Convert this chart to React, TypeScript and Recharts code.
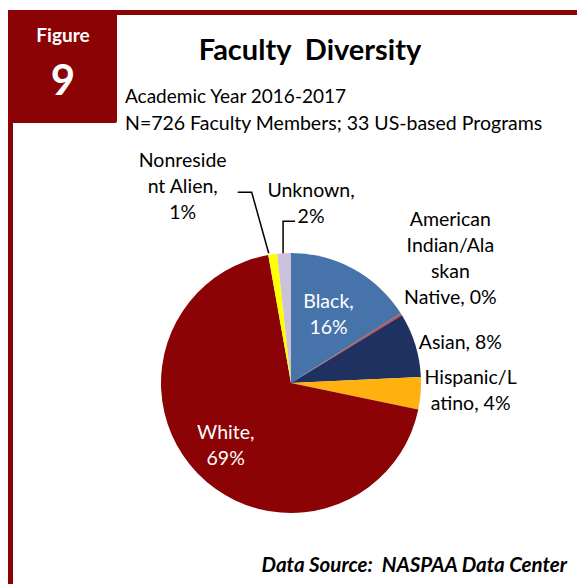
import { PieChart, Pie, Cell } from 'recharts'

const categories = [
  'Black',
  'American Indian/Alaskan Native',
  'Asian',
  'Hispanic/Latino',
  'White',
  'Nonresident Alien',
  'Unknown',
]
const shares = [16, 0.3, 8, 4, 69, 1.1, 1.7]
const labelLines = [
  ['Black,', '16%'],
  ['American', 'Indian/Ala', 'skan', 'Native, 0%'],
  ['Asian, 8%'],
  ['Hispanic/L', 'atino, 4%'],
  ['White,', '69%'],
  ['Nonreside', 'nt Alien,', '1%'],
  ['Unknown,', '2%'],
]
const colors = ['#4674AA', '#C0504D', '#1F3161', '#FFB20F', '#8B0304', '#FFFF00', '#CCC1DA']

const FRAME = '#8B0304'
const FONT = 'Lato, "Open Sans", sans-serif'
const LINE_H = 26
const RADIAN = Math.PI / 180

// how each label sits relative to its slice (inside: radius factor; outside: offset from rim point)
type Place =
  | { inside: true; rf: number }
  | { inside: false; dx: number; dy: number; leader?: [number, number][] }

const placement: Place[] = [
  { inside: true, rf: 0.6 },
  { inside: false, dx: 49, dy: -88 },
  { inside: false, dx: 45, dy: 4 },
  { inside: false, dx: 50, dy: -9 },
  { inside: true, rf: 0.7 },
  { inside: false, dx: -90, dy: -87, leader: [[-4, -1], [-21, -62], [-35, -62]] },
  { inside: false, dx: 27, dy: -56, leader: [[-1, 0], [-1, -32], [11, -32]] },
]

const data = categories.map((name, i) => ({ name, value: shares[i] }))

function renderLabel(props: any) {
  const { cx, cy, midAngle, outerRadius, index } = props
  const p = placement[index]
  const lines = labelLines[index]
  const cos = Math.cos(-midAngle * RADIAN)
  const sin = Math.sin(-midAngle * RADIAN)
  if (p.inside) {
    const x = cx + outerRadius * p.rf * cos
    const y = cy + outerRadius * p.rf * sin
    const y0 = y - ((lines.length - 1) * LINE_H) / 2 + 6
    return (
      <text key={index} x={x} y={y0} fill="#fff" fontSize={19.5} fontFamily={FONT} textAnchor="middle">
        {lines.map((l, k) => (
          <tspan key={k} x={x} y={y0 + k * LINE_H}>
            {l}
          </tspan>
        ))}
      </text>
    )
  }
  const rx = cx + outerRadius * cos
  const ry = cy + outerRadius * sin
  const x = rx + p.dx
  const y0 = ry + p.dy
  return (
    <g key={index}>
      {p.leader && (
        <polyline
          points={p.leader.map(([a, b]) => `${rx + a},${ry + b}`).join(' ')}
          fill="none"
          stroke="#000"
          strokeWidth={1.5}
        />
      )}
      <text x={x} y={y0} fill="#000" fontSize={19.5} fontFamily={FONT} textAnchor="middle">
        {lines.map((l, k) => (
          <tspan key={k} x={x} y={y0 + k * LINE_H}>
            {l}
          </tspan>
        ))}
      </text>
    </g>
  )
}

export default function App() {
  return (
    <div style={{ position: 'absolute', left: 0, top: 0, width: 577, height: 584, background: '#fff' }}>
      <svg width={577} height={584} style={{ position: 'absolute', left: 0, top: 0 }}>
        <rect x={8} y={10} width={569} height={5} fill={FRAME} />
        <rect x={8} y={10} width={5} height={574} fill={FRAME} />
        <rect x={8} y={10} width={109} height={113} fill={FRAME} rx={2} />
        <text x={63} y={42} fill="#fff" fontSize={19} fontWeight={700} fontFamily={FONT} textAnchor="middle">
          Figure
        </text>
        <text x={63} y={95} fill="#fff" fontSize={42} fontWeight={700} fontFamily={FONT} textAnchor="middle">
          9
        </text>
        <text x={310} y={60} fill="#000" fontSize={29} fontWeight={700} fontFamily={FONT} textAnchor="middle" xmlSpace="preserve">
          Faculty  Diversity
        </text>
        <text x={125} y={103} fill="#000" fontSize={19} fontFamily={FONT}>
          Academic Year 2016-2017
        </text>
        <text x={125} y={130} fill="#000" fontSize={19.5} fontFamily={FONT}>
          N=726 Faculty Members; 33 US-based Programs
        </text>
        <text x={567} y={572} fill="#000" fontSize={20.5} fontWeight={700} fontStyle="italic" fontFamily={FONT} textAnchor="end" xmlSpace="preserve">
          Data Source:  NASPAA Data Center
        </text>
      </svg>
      <div style={{ position: 'absolute', left: 0, top: 0 }}>
        <PieChart width={577} height={584} margin={{ top: 0, right: 0, bottom: 0, left: 0 }}>
          <Pie
            data={data}
            dataKey="value"
            nameKey="name"
            cx={291}
            cy={383}
            outerRadius={130}
            startAngle={90}
            endAngle={-270}
            stroke="none"
            labelLine={false}
            label={renderLabel}
            isAnimationActive={false}
          >
            {data.map((d, i) => (
              <Cell key={d.name} fill={colors[i]} />
            ))}
          </Pie>
        </PieChart>
      </div>
    </div>
  )
}
